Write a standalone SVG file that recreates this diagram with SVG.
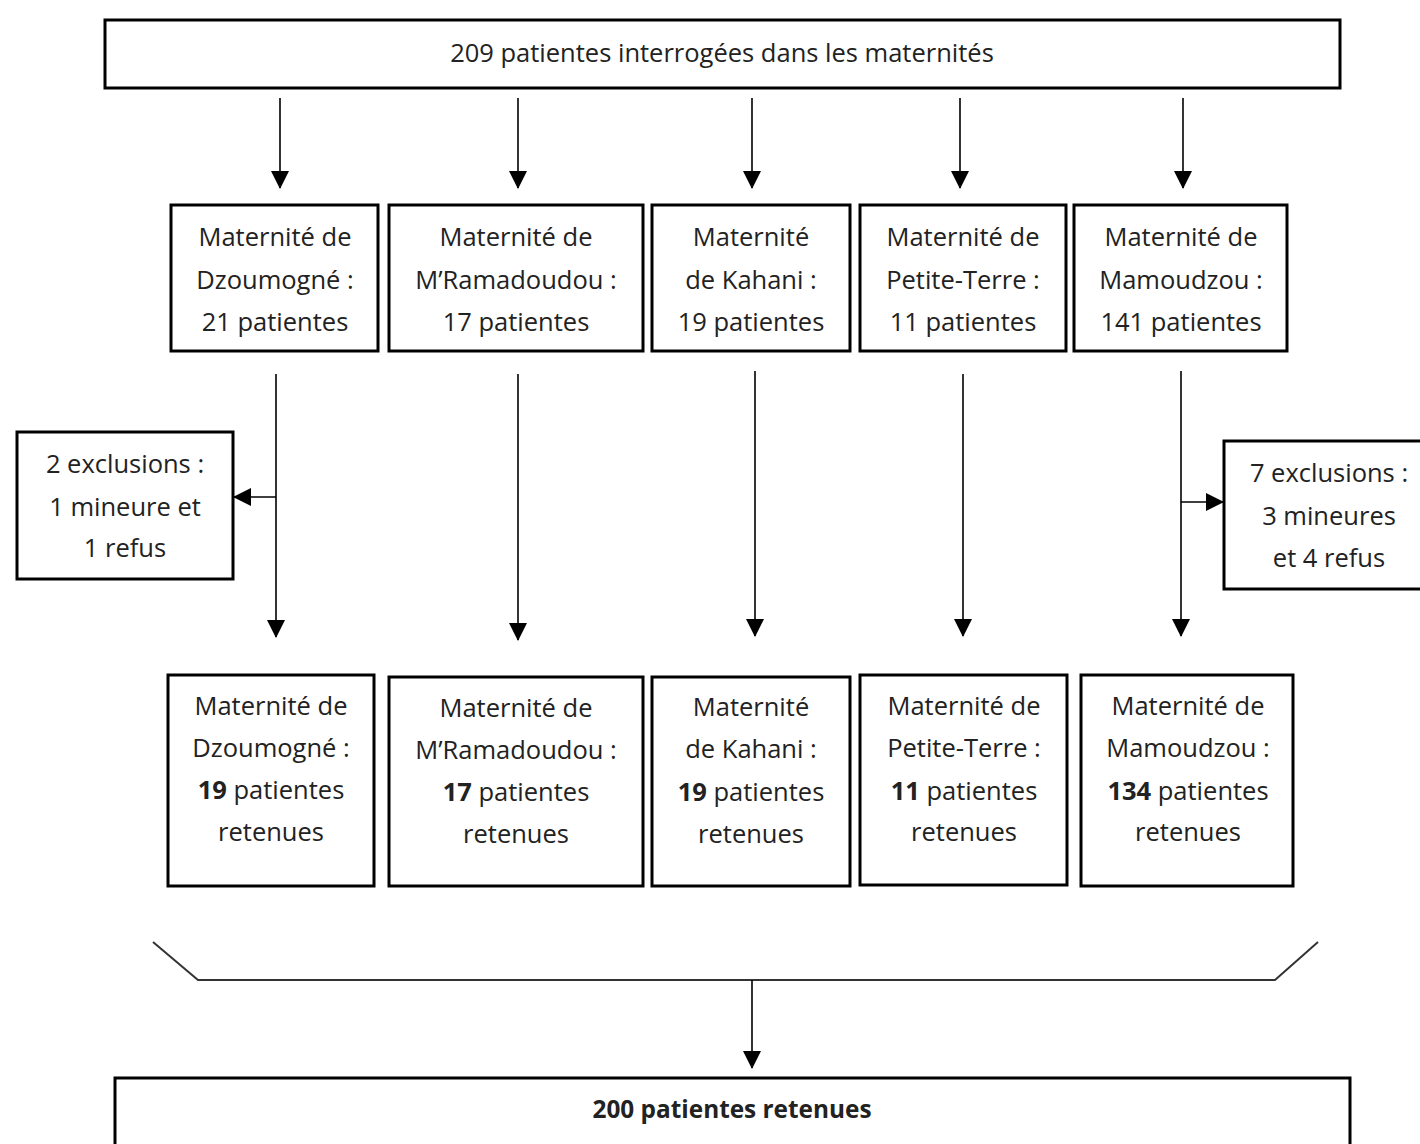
<svg xmlns="http://www.w3.org/2000/svg" width="1420" height="1144" viewBox="0 0 1420 1144">
<style>
  .box { fill: #ffffff; stroke: #000000; stroke-width: 3; }
  .t { font-family: "Open Sans", "Noto Sans", sans-serif; font-size: 25.5px; fill: #222222; text-anchor: middle; }
  .b { font-weight: bold; }
  .conn { stroke: #000000; stroke-width: 1.6; fill: none; }
  .brace { stroke: #333333; stroke-width: 2; fill: none; }
</style>
<defs>
  <marker id="ah" viewBox="0 0 18 18" refX="17" refY="9" markerWidth="18" markerHeight="18" markerUnits="userSpaceOnUse" orient="auto">
    <path d="M0,0 L18,9 L0,18 z" fill="#000000"/>
  </marker>
</defs>
<rect width="1420" height="1144" fill="#ffffff"/>

<g id="connectors">
  <line class="conn" x1="280" y1="98" x2="280" y2="188" marker-end="url(#ah)"/>
  <line class="conn" x1="518" y1="98" x2="518" y2="188" marker-end="url(#ah)"/>
  <line class="conn" x1="752" y1="98" x2="752" y2="188" marker-end="url(#ah)"/>
  <line class="conn" x1="960" y1="98" x2="960" y2="188" marker-end="url(#ah)"/>
  <line class="conn" x1="1183" y1="98" x2="1183" y2="188" marker-end="url(#ah)"/>

  <line class="conn" x1="276" y1="374" x2="276" y2="637" marker-end="url(#ah)"/>
  <line class="conn" x1="518" y1="374" x2="518" y2="640" marker-end="url(#ah)"/>
  <line class="conn" x1="755" y1="371" x2="755" y2="636" marker-end="url(#ah)"/>
  <line class="conn" x1="963" y1="374" x2="963" y2="636" marker-end="url(#ah)"/>
  <line class="conn" x1="1181" y1="371" x2="1181" y2="636" marker-end="url(#ah)"/>

  <line class="conn" x1="276" y1="497" x2="234" y2="497" marker-end="url(#ah)"/>
  <line class="conn" x1="1181" y1="502" x2="1223" y2="502" marker-end="url(#ah)"/>

  <polyline class="brace" points="153,942 198,980 1275,980 1318,942"/>
  <line class="conn" x1="752" y1="980" x2="752" y2="1068" marker-end="url(#ah)"/>
</g>

<g id="n-top">
  <rect class="box" x="105" y="20" width="1235" height="68"/>
  <text class="t" x="722" y="62">209 patientes interrogées dans les maternités</text>
</g>

<g id="n-dzoumogne">
  <rect class="box" x="171" y="205" width="207" height="146"/>
  <text class="t" x="275" y="246">Maternité de</text>
  <text class="t" x="275" y="289">Dzoumogné :</text>
  <text class="t" x="275" y="331">21 patientes</text>
</g>
<g id="n-mramadoudou">
  <rect class="box" x="389" y="205" width="254" height="146"/>
  <text class="t" x="516" y="246">Maternité de</text>
  <text class="t" x="516" y="289">M’Ramadoudou :</text>
  <text class="t" x="516" y="331">17 patientes</text>
</g>
<g id="n-kahani">
  <rect class="box" x="652" y="205" width="198" height="146"/>
  <text class="t" x="751" y="246">Maternité</text>
  <text class="t" x="751" y="289">de Kahani :</text>
  <text class="t" x="751" y="331">19 patientes</text>
</g>
<g id="n-petiteterre">
  <rect class="box" x="860" y="205" width="206" height="146"/>
  <text class="t" x="963" y="246">Maternité de</text>
  <text class="t" x="963" y="289">Petite-Terre :</text>
  <text class="t" x="963" y="331">11 patientes</text>
</g>
<g id="n-mamoudzou">
  <rect class="box" x="1074" y="205" width="213" height="146"/>
  <text class="t" x="1181" y="246">Maternité de</text>
  <text class="t" x="1181" y="289">Mamoudzou :</text>
  <text class="t" x="1181" y="331">141 patientes</text>
</g>

<g id="n-excl-left">
  <rect class="box" x="17" y="432" width="216" height="147"/>
  <text class="t" x="125" y="473">2 exclusions :</text>
  <text class="t" x="125" y="516">1 mineure et</text>
  <text class="t" x="125" y="557">1 refus</text>
</g>
<g id="n-excl-right">
  <rect class="box" x="1224" y="441" width="212" height="148"/>
  <text class="t" x="1329" y="482">7 exclusions :</text>
  <text class="t" x="1329" y="525">3 mineures</text>
  <text class="t" x="1329" y="567">et 4 refus</text>
</g>

<g id="n-dzoumogne-r">
  <rect class="box" x="168" y="675" width="206" height="211"/>
  <text class="t" x="271" y="715">Maternité de</text>
  <text class="t" x="271" y="757">Dzoumogné :</text>
  <text class="t" x="271" y="799"><tspan class="b">19</tspan> patientes</text>
  <text class="t" x="271" y="841">retenues</text>
</g>
<g id="n-mramadoudou-r">
  <rect class="box" x="389" y="677" width="254" height="209"/>
  <text class="t" x="516" y="717">Maternité de</text>
  <text class="t" x="516" y="759">M’Ramadoudou :</text>
  <text class="t" x="516" y="801"><tspan class="b">17</tspan> patientes</text>
  <text class="t" x="516" y="843">retenues</text>
</g>
<g id="n-kahani-r">
  <rect class="box" x="652" y="677" width="198" height="209"/>
  <text class="t" x="751" y="716">Maternité</text>
  <text class="t" x="751" y="758">de Kahani :</text>
  <text class="t" x="751" y="801"><tspan class="b">19</tspan> patientes</text>
  <text class="t" x="751" y="843">retenues</text>
</g>
<g id="n-petiteterre-r">
  <rect class="box" x="860" y="675" width="207" height="210"/>
  <text class="t" x="964" y="715">Maternité de</text>
  <text class="t" x="964" y="757">Petite-Terre :</text>
  <text class="t" x="964" y="800"><tspan class="b">11</tspan> patientes</text>
  <text class="t" x="964" y="841">retenues</text>
</g>
<g id="n-mamoudzou-r">
  <rect class="box" x="1081" y="675" width="212" height="211"/>
  <text class="t" x="1188" y="715">Maternité de</text>
  <text class="t" x="1188" y="757">Mamoudzou :</text>
  <text class="t" x="1188" y="800"><tspan class="b">134</tspan> patientes</text>
  <text class="t" x="1188" y="841">retenues</text>
</g>

<g id="n-total">
  <rect class="box" x="115" y="1078" width="1235" height="90"/>
  <text class="t b" x="732" y="1118" textLength="279" lengthAdjust="spacingAndGlyphs">200 patientes retenues</text>
</g>
</svg>
